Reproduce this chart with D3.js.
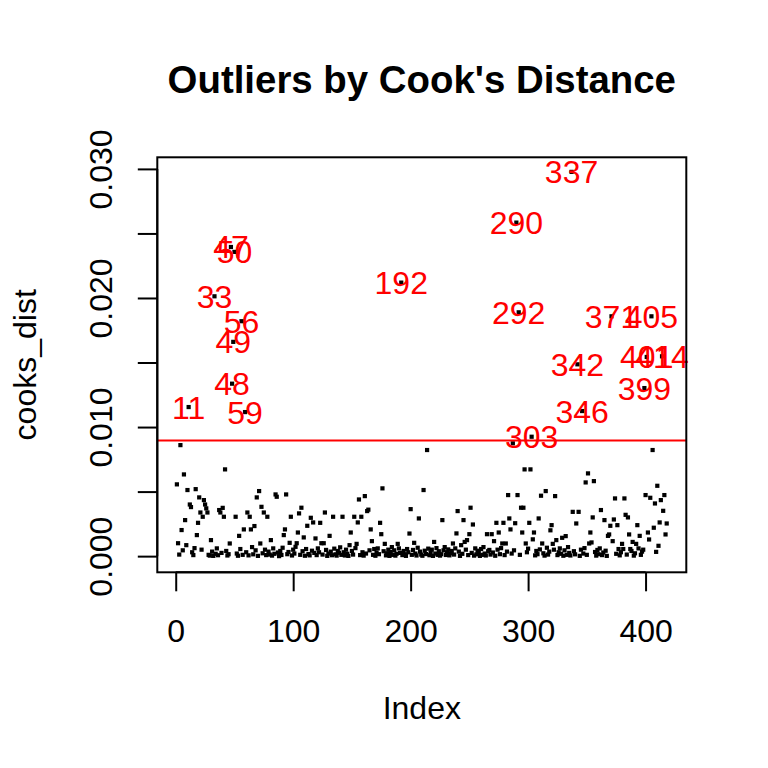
<!DOCTYPE html>
<html>
<head>
<meta charset="utf-8">
<script src="https://cdn.jsdelivr.net/npm/d3@7"></script>
<style>
  html, body { margin: 0; padding: 0; background: #fff; }
  svg { display: block; }
  text { font-family: "Liberation Sans", Arial, Helvetica, sans-serif; }
</style>
</head>
<body>
<svg id="chart" width="768" height="768"></svg>
<script>
// Cook's distance per observation (in thousandths), index 1..418
const cooksThousandths = [
  5.56, 1.0, 0.12, 8.6, 2.02, 0.45, 6.33, 2.79, 0.85, 5.12,
  11.55, 4.0, 3.8, 0.3, 0.08, 0.62, 5.19, 1.63, 2.58, 4.55,
  3.38, 0.5, 3.05, 4.34, 4.0, 3.7, 3.38, 0.1, 0.04, 1.24,
  0.35, 0.02, 20.13, 0.18, 0.6, 0.07, 3.57, 3.38, 0.25, 3.74,
  3.05, 6.72, 0.4, 0.05, 0.15, 0.98, 23.95, 13.36, 16.6, 23.57,
  3.05, 0.2, 0.03, 1.57, 0.55, 18.2, 0.1, 2.07, 11.16, 0.3,
  3.38, 0.06, 3.05, 2.07, 0.7, 0.14, 2.33, 0.45, 4.55, 0.02,
  5.04, 0.98, 3.82, 0.22, 3.38, 0.5, 0.08, 3.05, 0.35, 0.12,
  1.24, 0.04, 0.6, 0.18, 4.78, 4.6, 0.28, 0.0, 0.4, 0.09,
  0.65, 1.63, 2.07, 4.78, 0.15, 0.32, 1.03, 3.05, 0.05, 0.5,
  0.2, 0.72, 1.0, 1.83, 3.31, 0.1, 3.75, 0.38, 1.45, 0.03,
  0.55, 2.35, 0.16, 0.06, 2.97, 0.42, 2.61, 0.25, 1.37, 0.08,
  0.6, 0.3, 2.58, 1.0, 0.12, 1.0, 3.38, 0.48, 0.02, 0.2,
  1.57, 0.35, 0.07, 3.05, 0.58, 0.14, 0.04, 0.4, 0.26, 0.68,
  0.1, 3.05, 0.3, 0.05, 0.5, 0.18, 0.02, 0.85, 1.83, 0.4,
  0.12, 3.05, 0.62, 0.95, 2.61, 4.39, 0.08, 3.05, 0.3, 0.04,
  4.65, 0.2, 3.49, 3.6, 0.45, 2.07, 1.16, 0.1, 0.55, 0.03,
  0.28, 0.6, 0.15, 2.58, 1.7, 5.25, 0.38, 0.95, 0.06, 0.22,
  0.5, 0.02, 0.32, 0.7, 0.1, 0.45, 0.04, 0.18, 0.95, 0.6,
  0.25, 21.19, 0.08, 0.4, 0.14, 0.02, 0.55, 0.3, 1.75, 3.64,
  0.1, 0.48, 1.03, 0.2, 0.05, 0.65, 2.92, 0.35, 0.12, 0.03,
  5.12, 0.42, 0.16, 8.22, 0.58, 0.07, 0.28, 0.5, 0.02, 1.1,
  0.2, 0.62, 0.1, 0.38, 0.04, 0.15, 2.79, 0.45, 0.7, 0.09,
  0.3, 0.52, 0.06, 0.22, 0.4, 0.98, 0.12, 0.6, 1.76, 3.49,
  0.35, 0.02, 0.85, 0.18, 2.79, 1.1, 0.5, 1.24, 0.08, 1.7,
  3.75, 0.25, 2.45, 0.04, 0.6, 0.14, 0.42, 0.3, 0.02, 0.55,
  0.1, 0.7, 0.2, 0.05, 1.7, 0.38, 0.48, 0.12, 1.7, 0.28,
  1.16, 0.03, 2.58, 0.5, 1.83, 0.15, 0.62, 0.98, 2.58, 0.08,
  0.98, 0.35, 4.73, 2.92, 2.07, 0.2, 8.74, 0.45, 2.55, 25.84,
  4.73, 18.89, 0.1, 3.75, 1.83, 3.75, 6.72, 0.98, 0.3, 0.58,
  2.58, 6.72, 9.25, 1.3, 1.83, 0.06, 0.4, 0.15, 2.92, 0.52,
  4.68, 0.98, 0.22, 0.04, 5.04, 0.65, 0.12, 0.35, 2.0, 2.4,
  0.95, 0.5, 4.65, 1.24, 0.08, 0.3, 0.6, 0.18, 1.42, 0.03,
  0.45, 1.55, 0.1, 0.7, 0.25, 0.05, 29.77, 3.43, 0.38, 0.14,
  2.53, 14.86, 3.43, 0.02, 0.5, 11.24, 0.2, 0.62, 5.71, 0.1,
  6.41, 0.98, 1.83, 1.06, 3.0, 5.81, 0.32, 0.04, 0.48, 0.15,
  0.6, 3.57, 0.08, 0.28, 2.79, 0.42, 0.02, 1.57, 1.68, 2.35,
  18.58, 1.16, 2.84, 4.47, 0.18, 2.4, 0.55, 0.06, 0.3, 0.95,
  0.55, 4.47, 3.2, 0.12, 3.0, 1.68, 0.55, 0.4, 1.1, 0.04,
  0.22, 0.95, 2.4, 0.6, 1.57, 0.1, 0.35, 0.5, 13.02, 4.73,
  15.43, 1.83, 1.29, 4.52, 18.58, 8.22, 2.2, 4.08, 0.33, 5.45,
  0.8, 2.61, 4.34, 15.48, 3.51, 4.73, 1.68, 2.53
];
const cooksDist = cooksThousandths.map(v => v / 1000);
const cutoff = 0.00895;
const xTicks = [0, 100, 200, 300, 400];
const yTicks = [0, 0.005, 0.010, 0.015, 0.020, 0.025, 0.030];
const yTickLabels = ["0.000", "", "0.010", "", "0.020", "", "0.030"];
const titleText = "Outliers by Cook's Distance";
const xLabel = "Index";
const yLabel = "cooks_dist";

const svg = d3.select("#chart");
const L = 157.3, R = 686.3, T = 157.3, B = 572.3;
const n = cooksDist.length;
const pts = cooksDist.map((v, i) => ({ idx: i + 1, v }));

const padX = 0.04 * (n - 1);
const x = d3.scaleLinear().domain([1 - padX, n + padX]).range([L, R]);
const [ymin, ymax] = d3.extent(cooksDist);
const padY = 0.04 * (ymax - ymin);
const y = d3.scaleLinear().domain([ymin - padY, ymax + padY]).range([B - 0.8, T - 0.8]);

const FS = 32;

// points
svg.append("g").selectAll("rect").data(pts).join("rect")
  .attr("x", d => x(d.idx) - 2.1).attr("y", d => y(d.v) - 2.1)
  .attr("width", 4.2).attr("height", 4.2).attr("fill", "#000");

// cutoff line
svg.append("clipPath").attr("id", "clip").append("rect")
  .attr("x", L).attr("y", T).attr("width", R - L).attr("height", B - T);
svg.append("line").attr("clip-path", "url(#clip)")
  .attr("x1", L).attr("x2", R).attr("y1", y(cutoff)).attr("y2", y(cutoff))
  .attr("stroke", "#ff0000").attr("stroke-width", 2);

// outlier labels
svg.append("g").selectAll("text").data(pts.filter(d => d.v > cutoff)).join("text")
  .attr("x", d => x(d.idx)).attr("y", d => y(d.v) + 11.5)
  .attr("text-anchor", "middle").attr("font-size", FS).attr("fill", "#ff0000")
  .text(d => d.idx);

// box
svg.append("rect").attr("x", L).attr("y", T).attr("width", R - L).attr("height", B - T)
  .attr("fill", "none").attr("stroke", "#000").attr("stroke-width", 2);

// x axis (line spans first to last tick only, as in R)
const xAxis = d3.axisBottom(x).tickValues(xTicks).tickSize(19).tickSizeOuter(0).tickPadding(0).tickFormat(d3.format("d"));
const gx = svg.append("g").attr("transform", `translate(0,${B})`).call(xAxis);
gx.select(".domain").remove();
gx.append("line").attr("x1", x(xTicks[0])).attr("x2", x(xTicks[xTicks.length - 1]))
  .attr("stroke", "#000").attr("stroke-width", 2);
gx.selectAll(".tick line").attr("stroke-width", 2);
gx.selectAll(".tick text").attr("font-size", FS).attr("fill", "#000").attr("dy", null).attr("y", 69.7)
  .attr("font-family", '"Liberation Sans", Arial, sans-serif');

// y axis
const yAxis = d3.axisLeft(y).tickValues(yTicks).tickSize(19.5).tickSizeOuter(0).tickPadding(0).tickFormat((d, i) => yTickLabels[i]);
const gy = svg.append("g").attr("transform", `translate(${L},0)`).call(yAxis);
gy.select(".domain").remove();
gy.append("line").attr("y1", y(yTicks[0])).attr("y2", y(yTicks[yTicks.length - 1]))
  .attr("stroke", "#000").attr("stroke-width", 2);
gy.selectAll(".tick line").attr("stroke-width", 2);
gy.selectAll(".tick text").attr("font-size", FS).attr("fill", "#000")
  .attr("font-family", '"Liberation Sans", Arial, sans-serif')
  .attr("x", null).attr("dy", null).attr("y", null)
  .attr("text-anchor", "middle")
  .attr("transform", `translate(${112 - L},0) rotate(-90)`);

// title and labels
svg.append("text").attr("x", (L + R) / 2).attr("y", 93).attr("text-anchor", "middle")
  .attr("font-size", FS * 1.2).attr("font-weight", "bold").text(titleText);
svg.append("text").attr("x", (L + R) / 2).attr("y", 719).attr("text-anchor", "middle")
  .attr("font-size", FS).text(xLabel);
svg.append("text").attr("transform", `translate(36,${(T + B) / 2}) rotate(-90)`)
  .attr("text-anchor", "middle").attr("font-size", FS).text(yLabel);
</script>
</body>
</html>
